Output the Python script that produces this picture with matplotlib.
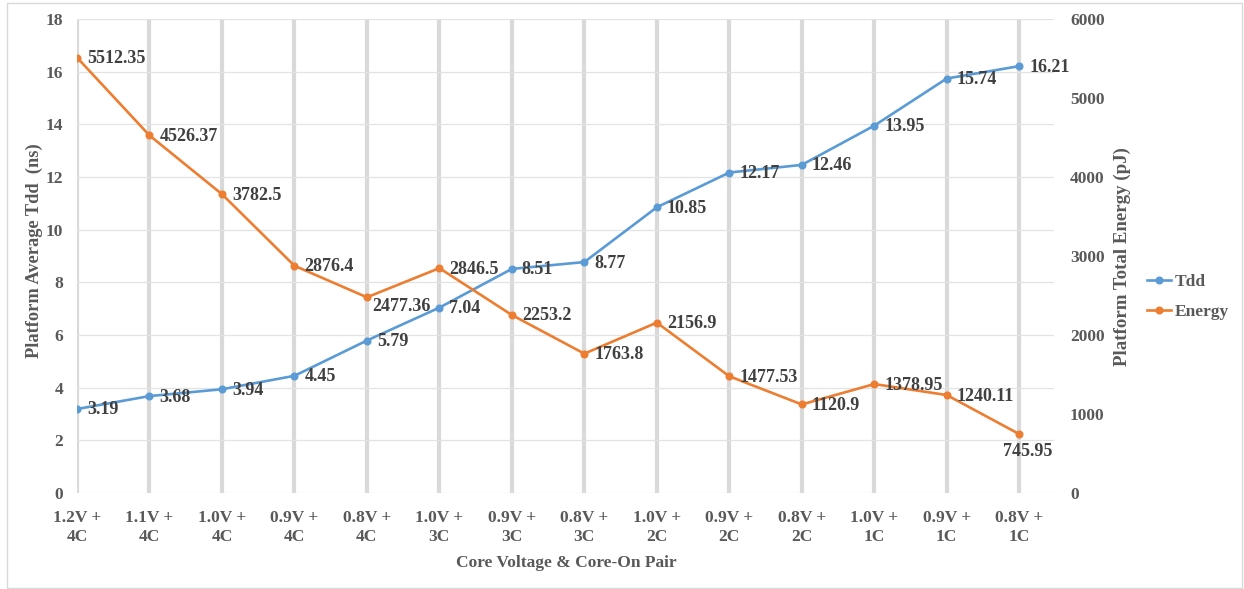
import matplotlib
matplotlib.use("Agg")
import matplotlib.pyplot as plt
from matplotlib.patches import Rectangle

# Operating points: core voltage + number of active cores
categories = ["1.2V +\n4C", "1.1V +\n4C", "1.0V +\n4C", "0.9V +\n4C", "0.8V +\n4C",
              "1.0V +\n3C", "0.9V +\n3C", "0.8V +\n3C", "1.0V +\n2C", "0.9V +\n2C",
              "0.8V +\n2C", "1.0V +\n1C", "0.9V +\n1C", "0.8V +\n1C"]
tdd = [3.19, 3.68, 3.94, 4.45, 5.79, 7.04, 8.51, 8.77, 10.85, 12.17, 12.46, 13.95, 15.74, 16.21]
energy = [5512.35, 4526.37, 3782.5, 2876.4, 2477.36, 2846.5, 2253.2, 1763.8, 2156.9,
          1477.53, 1120.9, 1378.95, 1240.11, 745.95]
tdd_ticks = [0, 2, 4, 6, 8, 10, 12, 14, 16, 18]
energy_ticks = [0, 1000, 2000, 3000, 4000, 5000, 6000]

FONT = "Liberation Serif"
plt.rcParams["font.family"] = [FONT, "DejaVu Serif"]
plt.rcParams["font.weight"] = "bold"

BLUE = "#5B9BD5"
ORANGE = "#ED7D31"
TICK_C = "#595959"
LABEL_C = "#404040"
FS = 12.5
DFS = 13

W, H = 1244, 589
fig = plt.figure(figsize=(W / 100, H / 100), dpi=100)
fig.patch.set_facecolor("white")
fig.patches.append(Rectangle((7 / W, 1 - 588 / H), (1242 - 7) / W, (588 - 3) / H,
                             transform=fig.transFigure, fill=False,
                             edgecolor="#D9D9D9", linewidth=1.0))

ax = fig.add_axes([77 / W, 1 - 493 / H, (1054 - 77) / W, (493 - 19) / H])
ax2 = ax.twinx()

x = list(range(len(categories)))

# gridlines
for xi in x:
    ax.axvline(xi, color="#D9D9D9", linewidth=3.0, zorder=0)
for yt in tdd_ticks:
    ax.axhline(yt, color="#E3E3E3", linewidth=0.9, zorder=0)

l1, = ax.plot(x, tdd, color=BLUE, linewidth=1.9, marker="o", markersize=4.8,
              label="Tdd", zorder=3)
l2, = ax2.plot(x, energy, color=ORANGE, linewidth=1.9, marker="o", markersize=4.8,
               label="Energy", zorder=3)

ax.set_xlim(0, 13.48)
ax.set_ylim(0, 18)
ax2.set_ylim(0, 6000)
ax.set_yticks(tdd_ticks)
ax2.set_yticks(energy_ticks)
ax.set_xticks(x)
ax.set_xticklabels(categories, linespacing=1.22)

for a in (ax, ax2):
    for s in a.spines.values():
        s.set_visible(False)
    a.tick_params(length=0, labelsize=FS, labelcolor=TICK_C)
ax.tick_params(axis="y", pad=10)
ax.tick_params(axis="x", pad=12.5)
ax2.tick_params(axis="y", pad=11.5)
for lab in ax.get_xticklabels() + ax.get_yticklabels() + ax2.get_yticklabels():
    lab.set_fontweight("bold")

# data labels
for xi, v in zip(x, tdd):
    ax.annotate(f"{v:g}", (xi, v), xytext=(10, -1), textcoords="offset pixels",
                ha="left", va="center", fontsize=DFS, fontweight="bold",
                color=LABEL_C, zorder=4)

energy_offsets = {4: ((5, -9), "left"), 13: ((8, -17), "center")}
for xi, v in zip(x, energy):
    off, ha = energy_offsets.get(xi, ((10, -1), "left"))
    ax2.annotate(f"{v:g}", (xi, v), xytext=off, textcoords="offset pixels",
                 ha=ha, va="center", fontsize=DFS, fontweight="bold",
                 color=LABEL_C, zorder=4)

# axis titles
fig.text(566 / W, 1 - 563 / H, "Core Voltage & Core-On Pair", ha="center", va="center",
         fontsize=12.5, fontweight="bold", color=TICK_C)
fig.text(34 / W, 1 - 251 / H, "Platform Average Tdd  (ns)", ha="center", va="center",
         rotation=90, fontsize=13.2, fontweight="bold", color=TICK_C)
fig.text(1122 / W, 1 - 257 / H, "Platform Total Energy (pJ)", ha="center", va="center",
         rotation=90, fontsize=13.6, fontweight="bold", color=TICK_C)

leg = fig.legend([l1, l2], ["Tdd", "Energy"], loc="center left",
                 bbox_to_anchor=(1147 / W, 1 - 297 / H), frameon=False,
                 handlelength=1.4, handletextpad=0.2, labelspacing=0.75,
                 borderpad=0, borderaxespad=0,
                 prop={"family": FONT, "weight": "bold", "size": FS})
for t in leg.get_texts():
    t.set_color(TICK_C)

fig.savefig("out.png", dpi=100, facecolor="white")
